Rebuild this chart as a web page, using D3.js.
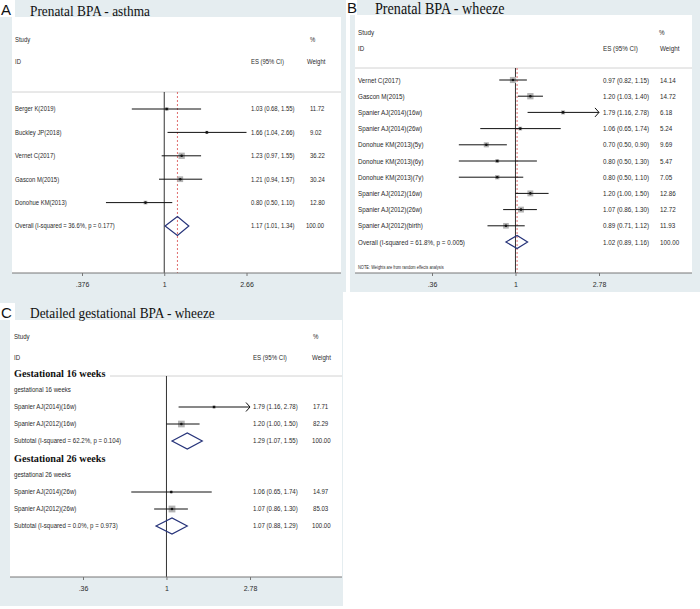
<!DOCTYPE html>
<html><head><meta charset="utf-8">
<script src="https://cdn.jsdelivr.net/npm/d3@7"></script>
<style>
body{margin:0;background:#fff}
svg{display:block}
text{font-family:"Liberation Sans",Arial,Helvetica,sans-serif;fill:#2a2a2a}
</style>
</head><body>
<svg id="chart" width="700" height="609"></svg>
<script>
// ---------- Panel A: Prenatal BPA - asthma ----------
const studiesA = ["Berger K(2019)", "Buckley JP(2018)", "Vernet C(2017)", "Gascon M(2015)", "Donohue KM(2013)"];
const esA = [1.03, 1.66, 1.23, 1.21, 0.80];
const lowA = [0.68, 1.04, 0.97, 0.94, 0.50];
const highA = [1.55, 2.66, 1.55, 1.57, 1.10];
const weightA = [11.72, 9.02, 36.22, 30.24, 12.80];
const overallLabelA = "Overall  (I-squared = 36.6%, p = 0.177)";
const overallA = [1.17, 1.01, 1.34];
const ticksA = [0.376, 1, 2.66];
const tickLabelsA = [".376", "1", "2.66"];

// ---------- Panel B: Prenatal BPA - wheeze ----------
const studiesB = ["Vernet C(2017)", "Gascon M(2015)", "Spanier AJ(2014)(16w)", "Spanier AJ(2014)(26w)",
  "Donohue KM(2013)(5y)", "Donohue KM(2013)(6y)", "Donohue KM(2013)(7y)",
  "Spanier AJ(2012)(16w)", "Spanier AJ(2012)(26w)", "Spanier AJ(2012)(birth)"];
const esB = [0.97, 1.20, 1.79, 1.06, 0.70, 0.80, 0.80, 1.20, 1.07, 0.89];
const lowB = [0.82, 1.03, 1.16, 0.65, 0.50, 0.50, 0.50, 1.00, 0.86, 0.71];
const highB = [1.15, 1.40, 2.78, 1.74, 0.90, 1.30, 1.10, 1.50, 1.30, 1.12];
const weightB = [14.14, 14.72, 6.18, 5.24, 9.69, 5.47, 7.05, 12.86, 12.72, 11.93];
const overallLabelB = "Overall  (I-squared = 61.8%, p = 0.005)";
const overallB = [1.02, 0.89, 1.16];
const noteB = "NOTE: Weights are from random effects analysis";
const ticksB = [0.36, 1, 2.78];
const tickLabelsB = [".36", "1", "2.78"];

// ---------- Panel C: Detailed gestational BPA - wheeze ----------
const groupsC = ["Gestational 16 weeks", "Gestational 26 weeks"];
const subLabelsC = ["gestational 16 weeks", "gestational 26 weeks"];
const studiesC16 = ["Spanier AJ(2014)(16w)", "Spanier AJ(2012)(16w)"];
const esC16 = [1.79, 1.20];
const lowC16 = [1.16, 1.00];
const highC16 = [2.78, 1.50];
const weightC16 = [17.71, 82.29];
const subtotalLabelC16 = "Subtotal  (I-squared = 62.2%, p = 0.104)";
const subtotalC16 = [1.29, 1.07, 1.55];
const studiesC26 = ["Spanier AJ(2014)(26w)", "Spanier AJ(2012)(26w)"];
const esC26 = [1.06, 1.07];
const lowC26 = [0.65, 0.86];
const highC26 = [1.74, 1.30];
const weightC26 = [14.97, 85.03];
const subtotalLabelC26 = "Subtotal  (I-squared = 0.0%, p = 0.973)";
const subtotalC26 = [1.07, 0.88, 1.29];
const ticksC = [0.36, 1, 2.78];
const tickLabelsC = [".36", "1", "2.78"];

// ---------- helpers ----------
const SX = 0.86;               // horizontal condensation of the original figure
const BG = "#e5edf0";
const NAVY = "#27347a";
const SERIF = "'Liberation Serif','Times New Roman',serif";
const svg = d3.select("#chart");

function txt(g, x, y, s, size, o = {}) {
  const sx = o.sx != null ? o.sx : SX;
  const t = g.append("text")
    .attr("transform", `translate(${x},${y}) scale(${sx},1)`)
    .attr("dy", o.dy || "0.35em")
    .style("font-size", size + "px")
    .text(s);
  if (o.family) t.style("font-family", o.family);
  if (o.weight) t.style("font-weight", o.weight);
  if (o.fill) t.style("fill", o.fill);
  return t;
}
const f2 = v => v.toFixed(2);
const ci = (e, l, h) => `${f2(e)} (${f2(l)}, ${f2(h)})`;

function panelFrame(p) {
  const g = svg.append("g");
  g.append("rect").attr("x", p.x).attr("y", p.y).attr("width", p.w).attr("height", p.h).attr("fill", BG);
  g.append("rect").attr("x", p.px).attr("y", p.py).attr("width", p.pw).attr("height", p.ph).attr("fill", "#fff");
  g.append("rect").attr("x", p.lx).attr("y", p.ly).attr("width", p.lw).attr("height", p.lh).attr("fill", "#fff");
  g.append("text").attr("x", p.lx + 1).attr("y", p.ly + p.lh - 2.5)
    .style("font-size", "15px").style("fill", "#111").text(p.letter);
  txt(g, p.tx, p.ty, p.title, p.ts, {dy: "0", family: SERIF, fill: "#111", sx: 0.89});
  return g;
}

function studyRows(g, x, ys, names, es, lo, hi, w, cols, wmax, boxMax, arrows, fs) {
  const dmax = x.domain()[1];
  names.forEach((n, i) => {
    const y = ys[i];
    txt(g, cols.label, y, n, fs);
    txt(g, cols.es, y, ci(es[i], lo[i], hi[i]), fs);
    txt(g, cols.w, y, f2(w[i]), fs);
    const s = boxMax * Math.sqrt(w[i] / wmax);
    g.append("rect").attr("x", x(es[i]) - s / 2).attr("y", y - s / 2)
      .attr("width", s).attr("height", s).attr("fill", "#b4b4b4");
    const hc = Math.min(hi[i], dmax);
    g.append("line").attr("x1", x(lo[i])).attr("x2", x(hc)).attr("y1", y).attr("y2", y)
      .attr("stroke", "#111").attr("stroke-width", 1);
    if (arrows && hi[i] >= dmax) {
      const ax = x(dmax);
      g.append("path").attr("d", `M${ax - 4},${y - 4.5}L${ax},${y}L${ax - 4},${y + 4.5}`)
        .attr("fill", "none").attr("stroke", "#111").attr("stroke-width", 1);
    }
    g.append("circle").attr("cx", x(es[i])).attr("cy", y).attr("r", 1.3).attr("fill", "#111");
  });
}

function diamond(g, x, y, v, hh) {
  const [e, l, h] = v;
  g.append("path").attr("d", `M${x(l)},${y}L${x(e)},${y - hh}L${x(h)},${y}L${x(e)},${y + hh}Z`)
    .attr("fill", "none").attr("stroke", NAVY).attr("stroke-width", 1.2);
}

function axis(g, x, y, ticks, labels, x0, x1) {
  g.append("line").attr("x1", x0).attr("x2", x1).attr("y1", y).attr("y2", y)
    .attr("stroke", "#777").attr("stroke-width", 1);
  const ax = g.append("g").attr("transform", `translate(0,${y})`)
    .call(d3.axisBottom(x).tickValues(ticks).tickSize(3).tickPadding(6)
      .tickFormat((d, i) => labels[i]));
  ax.select(".domain").remove();
  ax.selectAll("line").attr("stroke", "#777");
  ax.selectAll("text").style("font-size", "7px").style("fill", "#2a2a2a")
    .style("font-family", "'Liberation Sans',Arial,sans-serif");
}

// ---------- Panel A ----------
{
  const FS = 6.9;
  const p = {x: 0, y: 0, w: 346, h: 292, px: 12, py: 17, pw: 329, ph: 256,
    lx: 0, ly: 0, lw: 15, lh: 17, letter: "A", tx: 30, ty: 15.5, ts: 15, title: "Prenatal BPA - asthma"};
  const g = panelFrame(p);
  const x = d3.scaleLog().domain([ticksA[0], ticksA[2]]).range([82, 246.5]);
  const yRow = d3.scaleLinear().domain([0, 5]).range([109, 226]);
  const cols = {label: 15, es: 251, w: 310};
  const sepY = 92, axY = 273;
  txt(g, 15, 40, "Study", FS); txt(g, 15, 62, "ID", FS);
  txt(g, 310, 40, "%", FS); txt(g, 251, 62, "ES (95% CI)", FS); txt(g, 307, 62, "Weight", FS);
  g.append("line").attr("x1", 12).attr("x2", 341).attr("y1", sepY).attr("y2", sepY).attr("stroke", "#d2d2d2");
  g.append("line").attr("x1", x(1)).attr("x2", x(1)).attr("y1", sepY).attr("y2", axY).attr("stroke", "#333");
  g.append("line").attr("x1", x(overallA[0])).attr("x2", x(overallA[0])).attr("y1", sepY).attr("y2", axY)
    .attr("stroke", "#d84a4a").attr("stroke-width", 0.8).attr("stroke-dasharray", "2,2");
  studyRows(g, x, studiesA.map((d, i) => yRow(i)), studiesA, esA, lowA, highA, weightA, cols, d3.max(weightA), 6.3, false, FS);
  const yo = yRow(5);
  txt(g, 15, yo, overallLabelA, 6.8); txt(g, 251, yo, ci(...overallA), FS); txt(g, 306, yo, "100.00", FS);
  diamond(g, x, yo, overallA, 9.5);
  axis(g, x, axY, ticksA, tickLabelsA, 12, 341);
}

// ---------- Panel B ----------
{
  const FS = 7.3;
  const p = {x: 350, y: 0, w: 350, h: 292, px: 355, py: 15, pw: 337, ph: 258,
    lx: 346, ly: 0, lw: 11, lh: 15, letter: "B", tx: 375, ty: 14, ts: 15.9, title: "Prenatal BPA - wheeze"};
  const g = panelFrame(p);
  const x = d3.scaleLog().domain([ticksB[0], ticksB[2]]).range([432, 599]);
  const yRow = d3.scaleLinear().domain([0, 10]).range([80, 242]);
  const cols = {label: 358, es: 603, w: 660};
  const sepY = 68, axY = 273;
  txt(g, 358, 32, "Study", FS); txt(g, 358, 48, "ID", FS);
  txt(g, 659, 32, "%", FS); txt(g, 603, 48, "ES (95% CI)", FS); txt(g, 660, 48, "Weight", FS);
  g.append("line").attr("x1", 355).attr("x2", 692).attr("y1", sepY).attr("y2", sepY).attr("stroke", "#d2d2d2");
  g.append("line").attr("x1", x(1)).attr("x2", x(1)).attr("y1", sepY).attr("y2", axY).attr("stroke", "#333");
  g.append("line").attr("x1", x(overallB[0])).attr("x2", x(overallB[0])).attr("y1", sepY).attr("y2", axY)
    .attr("stroke", "#d84a4a").attr("stroke-width", 0.8).attr("stroke-dasharray", "2,2");
  studyRows(g, x, studiesB.map((d, i) => yRow(i)), studiesB, esB, lowB, highB, weightB, cols, d3.max(weightB), 6.3, true, FS);
  const yo = yRow(10);
  txt(g, 358, yo, overallLabelB, FS); txt(g, 603, yo, ci(...overallB), FS); txt(g, 660, yo, "100.00", FS);
  diamond(g, x, yo, overallB, 6.5);
  txt(g, 358, 267, noteB, 4.6);
  axis(g, x, axY, ticksB, tickLabelsB, 355, 692);
}

// ---------- Panel C ----------
{
  const FS = 7.1;
  const p = {x: 0, y: 291, w: 343, h: 315, px: 10, py: 320, pw: 332, ph: 257,
    lx: 0, ly: 303, lw: 15, lh: 17, letter: "C", tx: 30, ty: 317.5, ts: 15, title: "Detailed gestational BPA - wheeze"};
  const g = panelFrame(p);
  const x = d3.scaleLog().domain([ticksC[0], ticksC[2]]).range([83, 250]);
  const yRow = d3.scaleLinear().domain([0, 9]).range([373, 526]);
  const cols = {label: 14, es: 253, w: 313};
  const sepY = 376, axY = 577;
  txt(g, 14, 337, "Study", FS); txt(g, 14, 358, "ID", FS);
  txt(g, 313, 337, "%", FS); txt(g, 253, 358, "ES (95% CI)", FS); txt(g, 312, 358, "Weight", FS);
  g.append("line").attr("x1", 110).attr("x2", 342).attr("y1", sepY).attr("y2", sepY).attr("stroke", "#d2d2d2");
  g.append("line").attr("x1", x(1)).attr("x2", x(1)).attr("y1", sepY).attr("y2", axY).attr("stroke", "#333");
  const groups = [
    {names: studiesC16, es: esC16, lo: lowC16, hi: highC16, w: weightC16, sl: subtotalLabelC16, st: subtotalC16},
    {names: studiesC26, es: esC26, lo: lowC26, hi: highC26, w: weightC26, sl: subtotalLabelC26, st: subtotalC26}
  ];
  const wmax = d3.max(weightC16.concat(weightC26));
  groups.forEach((gr, k) => {
    const base = k * 5;
    txt(g, 14, yRow(base), groupsC[k], 11, {family: SERIF, weight: "bold", fill: "#111", sx: 0.93});
    txt(g, 14, yRow(base + 1), subLabelsC[k], FS);
    studyRows(g, x, [yRow(base + 2), yRow(base + 3)], gr.names, gr.es, gr.lo, gr.hi, gr.w, cols, wmax, 6.8, true, FS);
    const ys = yRow(base + 4);
    txt(g, 14, ys, gr.sl, FS); txt(g, 253, ys, ci(...gr.st), FS); txt(g, 312, ys, "100.00", FS);
    diamond(g, x, ys, gr.st, 8);
  });
  axis(g, x, axY, ticksC, tickLabelsC, 10, 342);
}
</script>
</body></html>
